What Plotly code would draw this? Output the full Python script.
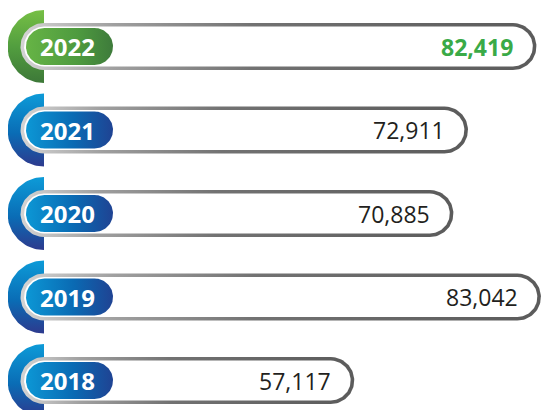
import numpy as np
import plotly.graph_objects as go

# ---- data ----
years = ["2022", "2021", "2020", "2019", "2018"]
values = [82419, 72911, 70885, 83042, 57117]
highlight_year = "2022"
value_labels = [f"{v:,}" for v in values]

# ---- layout constants (pixels, in window coordinates) ----
W, H = 549, 410
PAGE_MARGIN = 8               # default body margin of the page
PX_PER_UNIT = 0.0072          # horizontal scale
ZERO_PX = -57                 # window pixel position of value 0 (off-canvas)
X0 = (PAGE_MARGIN - ZERO_PX) / PX_PER_UNIT
X1 = X0 + W / PX_PER_UNIT
ROW_PX = 83.5
TOP_PX = 46.5
n = len(years)
Y1 = (n - 1) + (TOP_PX - PAGE_MARGIN) / ROW_PX
Y0 = Y1 - H / ROW_PX

CENTER_PX = 44.0      # common centre of left arc / caps
ARC_R = 36.5
OUT_R = 23.5
STROKE = 3.6
LABEL_L, LABEL_R, LABEL_RAD = 26.0, 113.0, 18.5


def px_x(px):
    return X0 + (px - PAGE_MARGIN) / PX_PER_UNIT


def dx(px):
    return px / PX_PER_UNIT


def dy(px):
    return px / ROW_PX


def pill(x_left, x_right, yc, r, m=48):
    rx, ry = dx(r), dy(r)
    t = np.linspace(-np.pi / 2, np.pi / 2, m)
    xr = (x_right - rx) + rx * np.cos(t)
    yr = yc + ry * np.sin(t)
    t2 = np.linspace(np.pi / 2, 3 * np.pi / 2, m)
    xl = (x_left + rx) + rx * np.cos(t2)
    yl = yc + ry * np.sin(t2)
    xs = np.concatenate([xr, xl, xr[:1]])
    ys = np.concatenate([yr, yl, yr[:1]])
    return xs, ys


def half_disc(cx, yc, r, m=60):
    t = np.linspace(np.pi / 2, 3 * np.pi / 2, m)
    xs = cx + dx(r) * np.cos(t)
    ys = yc + dy(r) * np.sin(t)
    return np.append(xs, xs[0]), np.append(ys, ys[0])


GREEN_ARC = [[0, "#3d7838"], [0.5, "#529e3f"], [1, "#76bf45"]]
BLUE_ARC = [[0, "#2d3a8e"], [0.45, "#0a6cb5"], [1, "#0d9bd8"]]
GREEN_LABEL = [[0, "#66b445"], [0.6, "#4e9a3f"], [1, "#3e7b3b"]]
BLUE_LABEL = [[0, "#0c97d5"], [0.55, "#0a6ab3"], [1, "#1f4393"]]
GRAY = [[0, "#d4d4d4"], [0.18, "#a0a0a0"], [0.45, "#727272"], [1, "#5b5b5b"]]


def area(xs, ys, grad_type, cscale):
    return go.Scatter(
        x=xs, y=ys, mode="lines", fill="toself",
        line=dict(width=0, color="rgba(0,0,0,0)"),
        fillgradient=dict(type=grad_type, colorscale=cscale),
        hoverinfo="skip", showlegend=False,
    )


fig = go.Figure()
annotations = []
for i, (yr, val, lab) in enumerate(zip(years, values, value_labels)):
    yc = (n - 1) - i
    hl = yr == highlight_year
    # left decorative arc
    xs, ys = half_disc(px_x(CENTER_PX), yc, ARC_R)
    fig.add_trace(area(xs, ys, "vertical", GREEN_ARC if hl else BLUE_ARC))
    # gray outline (outer pill) and white interior
    xs, ys = pill(px_x(CENTER_PX - OUT_R), val, yc, OUT_R)
    fig.add_trace(area(xs, ys, "horizontal", GRAY))
    xs, ys = pill(px_x(CENTER_PX - OUT_R + STROKE), val - dx(STROKE), yc, OUT_R - STROKE)
    fig.add_trace(go.Scatter(x=xs, y=ys, mode="lines", fill="toself",
                             fillcolor="white", line=dict(width=0, color="rgba(0,0,0,0)"),
                             hoverinfo="skip", showlegend=False))
    # year label pill
    xs, ys = pill(px_x(LABEL_L), px_x(LABEL_R), yc, LABEL_RAD)
    fig.add_trace(area(xs, ys, "horizontal", GREEN_LABEL if hl else BLUE_LABEL))
    annotations.append(dict(
        x=px_x((LABEL_L + LABEL_R) / 2 - 2), y=yc, text=f"<b>{yr}</b>",
        showarrow=False, xanchor="center", yanchor="middle",
        font=dict(family="Open Sans", size=24, color="white"),
    ))
    annotations.append(dict(
        x=val, y=yc, text=f"<b>{lab}</b>" if hl else lab,
        showarrow=False, xanchor="right", yanchor="middle", xshift=-21,
        font=dict(family="Open Sans", size=23,
                  color="#3aaa47" if hl else "#231f20"),
    ))

fig.update_layout(
    width=W, height=H, autosize=False,
    margin=dict(l=0, r=0, t=0, b=0),
    paper_bgcolor="white", plot_bgcolor="white",
    xaxis=dict(range=[X0, X1], visible=False, fixedrange=True),
    yaxis=dict(range=[Y0, Y1], visible=False, fixedrange=True),
    annotations=annotations,
    showlegend=False,
)
fig.write_html("out.html", config={"displayModeBar": False})
